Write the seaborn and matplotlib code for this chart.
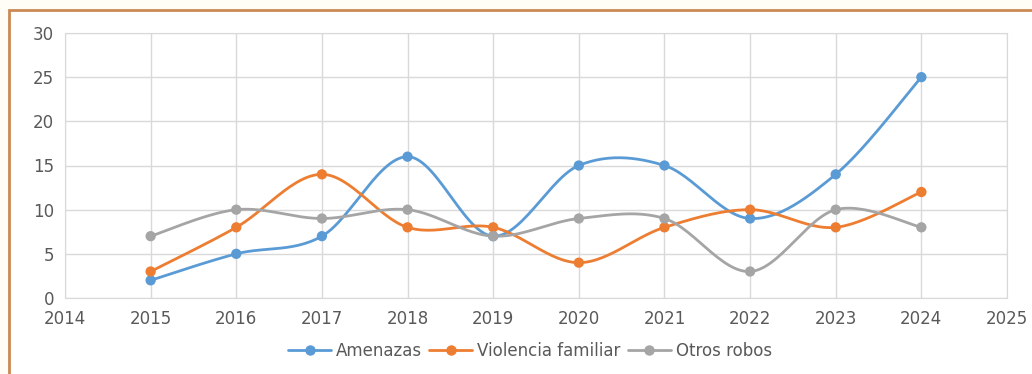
import numpy as np
import pandas as pd
import seaborn as sns
import matplotlib.pyplot as plt
from matplotlib.patches import Rectangle

years = [2015, 2016, 2017, 2018, 2019, 2020, 2021, 2022, 2023, 2024]
amenazas = [2, 5, 7, 16, 7, 15, 15, 9, 14, 25]
violencia = [3, 8, 14, 8, 8, 4, 8, 10, 8, 12]
otros = [7, 10, 9, 10, 7, 9, 9, 3, 10, 8]
series_names = ["Amenazas", "Violencia familiar", "Otros robos"]
colors = ["#5B9BD5", "#ED7D31", "#A5A5A5"]


def smooth(x, y, n=30):
    # excel-like smoothing: cubic bezier with catmull-rom control points
    x = np.asarray(x, float)
    y = np.asarray(y, float)
    px, py = [], []
    for i in range(len(x) - 1):
        x0, y0 = (x[i - 1], y[i - 1]) if i > 0 else (x[i], y[i])
        x3, y3 = (x[i + 2], y[i + 2]) if i + 2 < len(x) else (x[i + 1], y[i + 1])
        c1 = (x[i] + (x[i + 1] - x0) / 6, y[i] + (y[i + 1] - y0) / 6)
        c2 = (x[i + 1] - (x3 - x[i]) / 6, y[i + 1] - (y3 - y[i]) / 6)
        t = np.linspace(0, 1, n)
        b = [(1 - t) ** 3, 3 * (1 - t) ** 2 * t, 3 * (1 - t) * t ** 2, t ** 3]
        px.extend(b[0] * x[i] + b[1] * c1[0] + b[2] * c2[0] + b[3] * x[i + 1])
        py.extend(b[0] * y[i] + b[1] * c1[1] + b[2] * c2[1] + b[3] * y[i + 1])
    return np.array(px), np.array(py)


df = pd.DataFrame({"year": years * 3,
                   "value": amenazas + violencia + otros,
                   "serie": sum([[s] * len(years) for s in series_names], [])})

sns.set_style("white")
plt.rcParams["font.family"] = ["DejaVu Sans"]

fig = plt.figure(figsize=(10.32, 3.74), dpi=100, facecolor="#FFFDF6")
# frame of the pasted chart
bg = fig.add_axes([0, 0, 1, 1], zorder=-5)
bg.set_xlim(0, 1032)
bg.set_ylim(374, 0)
bg.axis("off")
bg.add_patch(Rectangle((9, 10), 1100, 400, facecolor="white",
                       edgecolor="#C98A55", linewidth=2))

ax = fig.add_axes([65 / 1032, 1 - 298 / 374, 942 / 1032, 265 / 374])
ax.set_facecolor("white")

for name, vals, c in zip(series_names, [amenazas, violencia, otros], colors):
    sx, sy = smooth(years, vals)
    ax.plot(sx, sy, color=c, lw=2, zorder=3)

sns.scatterplot(data=df, x="year", y="value", hue="serie", palette=colors,
                s=55, edgecolor="none", legend=False, ax=ax, zorder=4)

ax.set_xlim(2014, 2025)
ax.set_ylim(0, 30)
ax.set_xticks(range(2014, 2026))
ax.set_yticks(range(0, 31, 5))
ax.grid(True, color="#D9D9D9", lw=1)
for s in ax.spines.values():
    s.set_color("#D9D9D9")
ax.tick_params(colors="#595959", labelsize=12, length=0)
ax.tick_params(axis="x", pad=9)
ax.tick_params(axis="y", pad=8)
ax.set_xlabel("")
ax.set_ylabel("")

handles = [plt.Line2D([], [], color=c, lw=2, marker="o", markersize=6.5)
           for c in colors]
fig.legend(handles, series_names, loc="center", bbox_to_anchor=(530 / 1032, 1 - 351 / 374),
           ncol=3, frameon=False, fontsize=12, labelcolor="#595959",
           handlelength=2.6, handletextpad=0.3, columnspacing=0.4)

fig.savefig("out.png", dpi=100, facecolor=fig.get_facecolor())
